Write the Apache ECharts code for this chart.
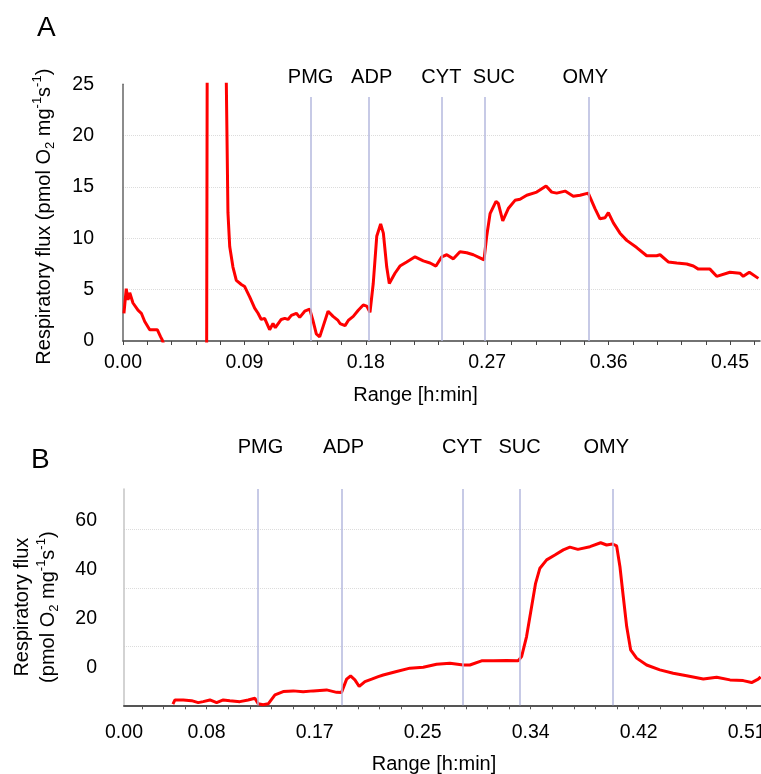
<!DOCTYPE html>
<html>
<head>
<meta charset="utf-8">
<style>
  html, body { margin: 0; padding: 0; background: #fff; }
  #chart { width: 761px; height: 774px; }
</style>
<script src="https://cdn.jsdelivr.net/npm/echarts@6/dist/echarts.min.js"></script>
</head>
<body>
<div id="chart"></div>
<script>
// ---------- DATA ----------
// time in minutes, respiratory flux in pmol O2 mg^-1 s^-1
const fluxA = [[0.07,2.7],[0.24,5.1],[0.37,4.0],[0.50,4.7],[0.74,3.7],[1.11,3.0],[1.36,2.7],[1.61,1.9],[1.98,1.1],[2.22,1.1],[2.54,1.1],[2.79,0.4],[2.91,0.1],[3.3,-1.5],[4.5,-2.5],[6.2,-2.0],[6.26,40],[7.55,40],[7.66,25],[7.78,12.5],[7.91,9.2],[8.15,7.2],[8.40,5.9],[8.77,5.5],[9.02,5.3],[9.39,4.3],[9.76,3.2],[10.01,2.7],[10.25,2.1],[10.50,2.2],[10.87,1.1],[11.12,1.7],[11.29,1.3],[11.73,2.1],[11.99,2.2],[12.23,2.1],[12.48,2.5],[12.85,2.7],[13.10,2.3],[13.47,2.9],[13.84,3.1],[14.08,2.0],[14.33,0.7],[14.58,0.4],[14.83,1.4],[15.20,2.9],[15.57,2.4],[15.94,2.0],[16.09,1.7],[16.46,1.5],[16.70,2.0],[17.07,2.4],[17.44,3.0],[17.81,3.5],[18.07,3.4],[18.31,2.8],[18.55,5.6],[18.81,10.2],[19.10,11.4],[19.30,10.5],[19.55,7.2],[19.74,5.6],[20.16,6.6],[20.53,7.3],[21.03,7.7],[21.65,8.2],[22.26,7.8],[22.76,7.6],[23.20,7.3],[23.63,8.2],[24.00,8.4],[24.49,8.0],[24.98,8.7],[25.48,8.6],[25.97,8.4],[26.46,8.1],[26.76,7.9],[26.96,10.2],[27.21,12.4],[27.65,13.6],[27.82,13.4],[28.15,11.7],[28.56,12.9],[29.06,13.7],[29.43,13.8],[29.93,14.2],[30.67,14.5],[31.36,15.1],[31.78,14.5],[32.15,14.4],[32.77,14.6],[33.38,14.1],[33.88,14.2],[34.49,14.4],[34.99,12.9],[35.36,11.9],[35.73,12.0],[35.98,12.5],[36.35,11.5],[36.84,10.5],[37.34,9.8],[38.08,9.1],[38.82,8.3],[39.56,8.3],[39.81,8.4],[40.42,7.7],[41.05,7.6],[41.79,7.5],[42.28,7.3],[42.65,7.0],[43.51,7.0],[44.01,6.3],[44.99,6.7],[45.73,6.6],[45.98,6.3],[46.43,6.7],[47.10,6.1]];

const fluxB = [[5.85,-15.0],[6.01,-13.3],[6.66,-13.3],[7.32,-13.6],[7.84,-14.4],[8.23,-14.0],[8.76,-13.3],[9.29,-14.4],[9.81,-13.3],[10.33,-13.6],[11.12,-14.0],[11.77,-13.3],[12.30,-12.6],[12.56,-14.9],[12.95,-15.3],[13.35,-14.9],[13.88,-11.2],[14.53,-9.9],[15.32,-9.6],[16.10,-10.0],[16.89,-9.6],[17.94,-9.2],[18.73,-10.2],[19.12,-10.3],[19.52,-4.8],[19.83,-3.5],[20.17,-5.1],[20.51,-7.8],[20.96,-5.8],[21.49,-4.8],[22.01,-3.8],[22.40,-3.1],[23.45,-1.7],[24.50,-0.3],[25.55,0.1],[26.60,1.3],[27.65,1.7],[28.70,1.0],[29.22,1.0],[30.14,2.7],[31.06,2.7],[32.11,2.8],[33.02,2.7],[33.29,4.4],[33.68,12.6],[34.08,24.9],[34.39,34.4],[34.73,40.6],[35.26,44.0],[35.91,46.0],[36.57,48.1],[37.09,49.2],[37.72,48.3],[38.67,49.4],[39.51,51.0],[39.98,50.1],[40.45,50.5],[40.77,49.7],[41.03,41.2],[41.29,29.0],[41.56,16.7],[41.87,7.2],[42.34,3.8],[43.13,1.0],[44.17,-1.0],[45.22,-2.4],[46.28,-3.4],[47.59,-4.7],[48.64,-4.0],[49.69,-5.1],[50.73,-5.4],[51.39,-6.2],[51.91,-4.8],[52.1,-3.9]];

const eventNames  = ['PMG', 'ADP', 'CYT', 'SUC', 'OMY'];
const eventTimesA = [13.91, 18.21, 23.60, 26.83, 34.49];
const eventTimesB = [12.51, 19.12, 28.67, 33.13, 40.50];

const xTickValuesA = [0, 9, 18, 27, 36, 45];
const xTickLabelsA = ['0.00', '0.09', '0.18', '0.27', '0.36', '0.45'];
const xTickValuesB = [2, 8.5, 17, 25.5, 34, 42.5, 51];
const xTickLabelsB = ['0.00', '0.08', '0.17', '0.25', '0.34', '0.42', '0.51'];
const yTicksA = [0, 5, 10, 15, 20, 25];
const yTicksB = [0, 20, 40, 60];

// ---------- STYLE / LAYOUT ----------
const FONT = '"Liberation Sans", Arial, Helvetica, sans-serif';
const RED = '#ff0000';
const EVENT_COLOR = '#b5b8de';
const labelOffsetA = [0, 3, 0, 9, -3];
const labelOffsetB = [3, 2, -1, 0, -7];

function minorTicks(step, from, to) {
  const out = [];
  for (let k = Math.ceil(from / step - 1e-9); k * step <= to + 1e-9; k++) out.push(+(k * step).toFixed(3));
  return out;
}
function lookup(values, labels) {
  return v => {
    const i = values.findIndex(t => Math.abs(t - v) < 1e-6);
    return i >= 0 ? labels[i] : '';
  };
}
const richName = {
  n:   { fontSize: 20, fontFamily: FONT, color: '#000', verticalAlign: 'middle' },
  sub: { fontSize: 13, fontFamily: FONT, color: '#000', verticalAlign: 'bottom' },
  sup: { fontSize: 13, fontFamily: FONT, color: '#000', verticalAlign: 'top' }
};
const unitRich = '{n|(pmol O}{sub|2}{n| mg}{sup|-1}{n|s}{sup|-1}{n|)}';

function eventLines(times, offsets, yBottom, yTop) {
  return eventNames.map((n, i) => [
    { name: n, coord: [times[i], yBottom], label: { offset: [offsets[i], 0] } },
    { coord: [times[i], yTop] }
  ]);
}

const chart = echarts.init(document.getElementById('chart'), null, { renderer: 'canvas' });

const option = {
  animation: false,
  backgroundColor: '#fff',
  textStyle: { fontFamily: FONT },
  title: [
    { text: 'A', left: 37, top: 14, padding: 0, textStyle: { fontSize: 28, fontWeight: 'normal', color: '#000', fontFamily: FONT } },
    { text: 'B', left: 31, top: 446, padding: 0, textStyle: { fontSize: 28, fontWeight: 'normal', color: '#000', fontFamily: FONT } }
  ],
  grid: [
    { left: 123, top: 84.3, width: 637, height: 256.7, containLabel: false, outerBoundsMode: 'none' },
    { left: 124, top: 489, width: 637, height: 216.3, containLabel: false, outerBoundsMode: 'none' }
  ],
  xAxis: [
    {
      type: 'value', gridIndex: 0, min: 0, max: 47.22,
      axisLine: { show: true, onZero: false, lineStyle: { color: '#444', width: 1.5 } },
      axisTick: { show: true, customValues: minorTicks(1.8, 0, 47.22), length: 4, lineStyle: { color: '#444', width: 1 } },
      axisLabel: { customValues: xTickValuesA, formatter: lookup(xTickValuesA, xTickLabelsA), fontSize: 19.5, color: '#000', margin: 12, fontFamily: FONT },
      splitLine: { show: false },
      name: 'Range [h:min]', nameLocation: 'middle', nameGap: 44,
      nameTextStyle: { fontSize: 20, color: '#000', fontFamily: FONT, padding: [0, 52, 0, 0] }
    },
    {
      type: 'value', gridIndex: 1, min: 2, max: 52.13,
      axisLine: { show: true, onZero: false, lineStyle: { color: '#555', width: 2 } },
      axisTick: { show: true, customValues: minorTicks(1.7, 2.1, 52.13), length: 4, lineStyle: { color: '#555', width: 1 } },
      axisLabel: { customValues: xTickValuesB, formatter: lookup(xTickValuesB, xTickLabelsB), fontSize: 19.5, color: '#000', margin: 17, fontFamily: FONT },
      splitLine: { show: false },
      name: 'Range [h:min]', nameLocation: 'middle', nameGap: 49,
      nameTextStyle: { fontSize: 20, color: '#000', fontFamily: FONT, padding: [0, 17, 0, 0] }
    }
  ],
  yAxis: [
    {
      type: 'value', gridIndex: 0, min: 0, max: 25, interval: 5,
      axisLine: { show: true, onZero: false, lineStyle: { color: '#666', width: 1.5 } },
      axisTick: { show: false, customValues: [5, 10, 15, 20] },
      axisLabel: { customValues: yTicksA, fontSize: 19.5, color: '#000', margin: 29, fontFamily: FONT },
      splitLine: { show: true, lineStyle: { color: '#dcdcdc', type: 'dotted', width: 1 } },
      name: '{n|Respiratory flux }' + unitRich, nameLocation: 'middle', nameRotate: 90, nameGap: 66,
      nameTextStyle: { fontSize: 20, color: '#000', fontFamily: FONT, lineHeight: 26, padding: [0, 8, 0, 0], rich: richName }
    },
    {
      type: 'value', gridIndex: 1, min: -15.5, max: 73,
      axisLine: { show: true, onZero: false, lineStyle: { color: '#c4c4c4', width: 1.5 } },
      axisTick: { show: false },
      axisLabel: { customValues: yTicksB, fontSize: 19.5, color: '#000', margin: 27, fontFamily: FONT },
      splitLine: { show: false },
      name: '{n|Respiratory flux}\n' + unitRich, nameLocation: 'middle', nameRotate: 90, nameGap: 63,
      nameTextStyle: { fontSize: 20, color: '#000', fontFamily: FONT, lineHeight: 25.6, padding: [0, 20, 0, 0], rich: richName }
    },
    {
      // background grid lines of panel B
      type: 'value', gridIndex: 1, min: 0, max: 73.7, interval: 20,
      axisLine: { show: false }, axisTick: { show: false, customValues: [20, 40, 60] }, axisLabel: { show: false },
      splitLine: { show: true, lineStyle: { color: '#dcdcdc', type: 'dotted', width: 1 } }
    }
  ],
  series: [
    {
      type: 'line', xAxisIndex: 0, yAxisIndex: 0, data: fluxA,
      showSymbol: false, symbol: 'none', clip: true, z: 3,
      lineStyle: { color: RED, width: 3 },
      markLine: {
        silent: true, symbol: ['none', 'none'], animation: false,
        lineStyle: { color: EVENT_COLOR, width: 1.5, type: 'solid' },
        label: { show: true, position: 'end', formatter: '{b}', fontSize: 20, color: '#000', distance: 10, fontFamily: FONT },
        data: eventLines(eventTimesA, labelOffsetA, 0, 23.76)
      }
    },
    {
      type: 'line', xAxisIndex: 1, yAxisIndex: 1, data: fluxB,
      showSymbol: false, symbol: 'none', clip: true, z: 3,
      lineStyle: { color: RED, width: 3 },
      markLine: {
        silent: true, symbol: ['none', 'none'], animation: false,
        lineStyle: { color: EVENT_COLOR, width: 1.5, type: 'solid' },
        label: { show: true, position: 'end', formatter: '{b}', fontSize: 20, color: '#000', distance: 32, fontFamily: FONT },
        data: eventLines(eventTimesB, labelOffsetB, -15.5, 73)
      }
    }
  ]
};
chart.setOption(option);
</script>
</body>
</html>
